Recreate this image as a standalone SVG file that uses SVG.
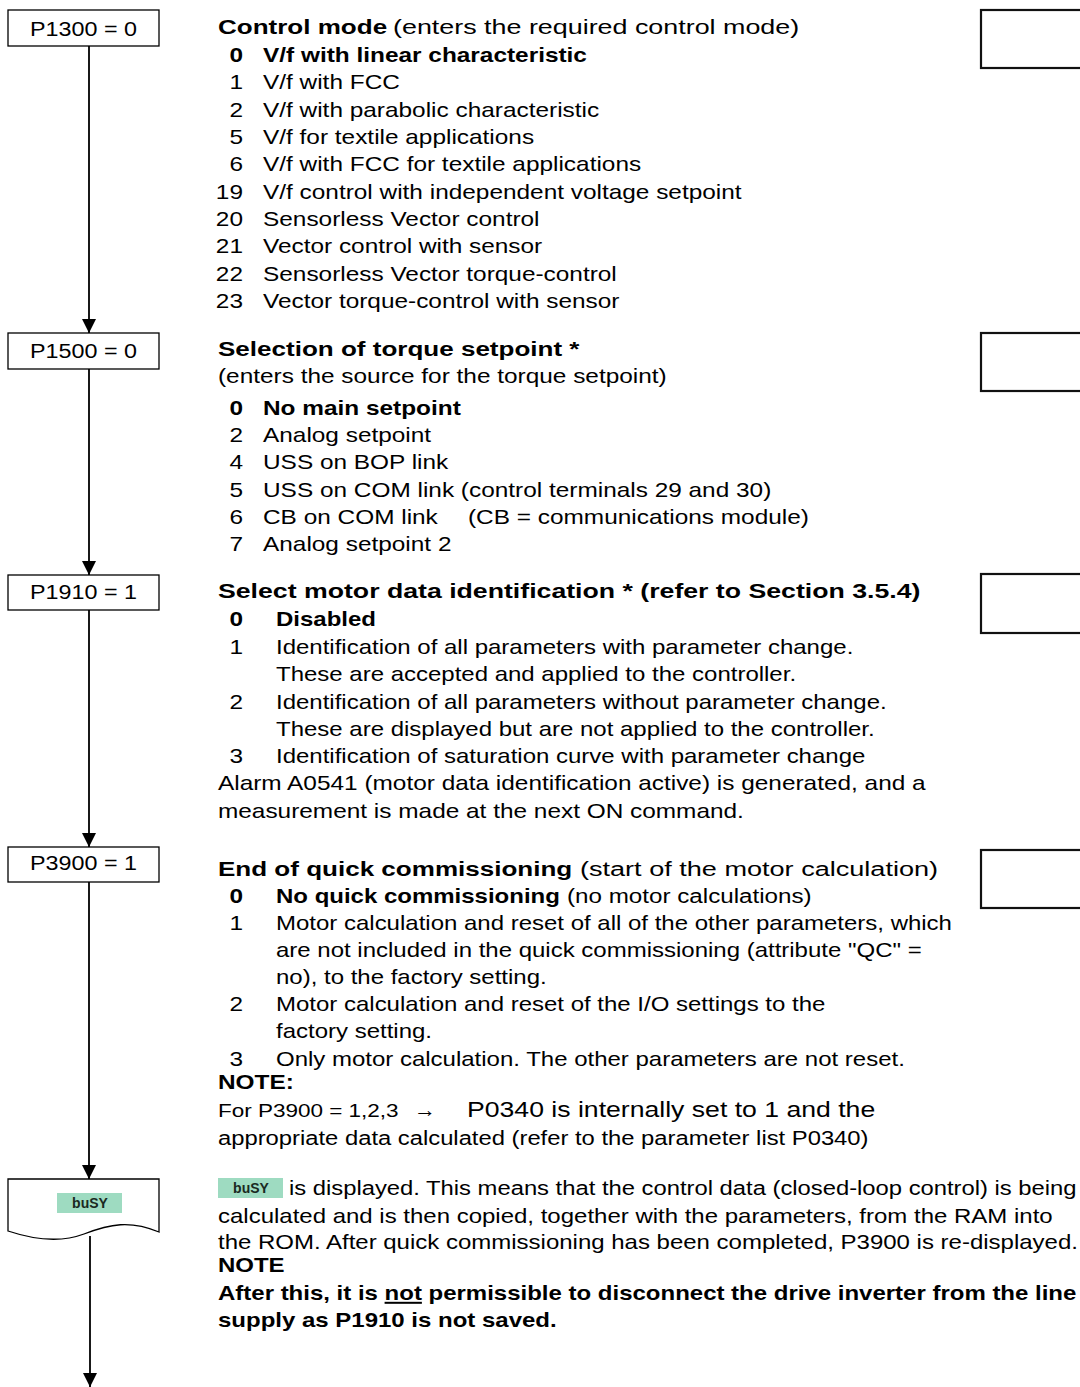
<svg xmlns="http://www.w3.org/2000/svg" width="1080" height="1387" viewBox="0 0 1080 1387">
<style>
text{font-family:"Liberation Sans",Arial,sans-serif;font-size:20px;fill:#000}
.h{font-size:21px;font-weight:bold}
.b{font-weight:bold}
.n text{text-anchor:end}
.pb{fill:#fff;stroke:#000;stroke-width:1.3}
.pt{font-size:20px}
.rb{fill:#fff;stroke:#111;stroke-width:2.2}
.conn{stroke:#000;stroke-width:1.8;fill:none}
.busy{fill:#9edbc1}
.bt{font-size:14px;font-weight:bold;fill:#1a2a22;text-anchor:middle}
</style>
<defs>
<marker id="ah" markerUnits="userSpaceOnUse" markerWidth="14" markerHeight="14" viewBox="0 0 13 13" refX="13" refY="6.5" orient="auto">
<path d="M0,0 L13,6.5 L0,13 z" fill="#000"/>
</marker>
</defs>
<rect width="1080" height="1387" fill="#fff"/>

<g id="connectors">
<line class="conn" x1="89" y1="46" x2="89" y2="333" marker-end="url(#ah)"/>
<line class="conn" x1="89" y1="369" x2="89" y2="575" marker-end="url(#ah)"/>
<line class="conn" x1="89" y1="610" x2="89" y2="847" marker-end="url(#ah)"/>
<line class="conn" x1="89" y1="882" x2="89" y2="1179" marker-end="url(#ah)"/>
<line class="conn" x1="90" y1="1236" x2="90" y2="1387" marker-end="url(#ah)"/>
</g>

<g id="n-p1300">
<rect class="pb" x="8" y="10" width="151" height="36"/>
<text class="pt" x="30" y="36" textLength="107" lengthAdjust="spacingAndGlyphs">P1300 = 0</text>
</g>
<g id="n-p1500">
<rect class="pb" x="8" y="333" width="151" height="36"/>
<text class="pt" x="30" y="358" textLength="107" lengthAdjust="spacingAndGlyphs">P1500 = 0</text>
</g>
<g id="n-p1910">
<rect class="pb" x="8" y="575" width="151" height="35"/>
<text class="pt" x="30" y="599" textLength="107" lengthAdjust="spacingAndGlyphs">P1910 = 1</text>
</g>
<g id="n-p3900">
<rect class="pb" x="8" y="847" width="151" height="35"/>
<text class="pt" x="30" y="870" textLength="107" lengthAdjust="spacingAndGlyphs">P3900 = 1</text>
</g>
<g id="n-busy">
<path class="pb" d="M8,1179 H159 V1232 C130,1220 110,1224 84,1234 C60,1243 35,1240 8,1231 Z"/>
<rect class="busy" x="57" y="1193" width="65" height="20"/>
<text class="bt" x="90" y="1208">buSY</text>
</g>

<g id="right-boxes">
<rect class="rb" x="981" y="10" width="120" height="58"/>
<rect class="rb" x="981" y="333" width="120" height="58"/>
<rect class="rb" x="981" y="574" width="120" height="59"/>
<rect class="rb" x="981" y="850" width="120" height="58"/>
</g>

<g id="sec1">
<text class="h" x="218" y="34" transform="matrix(1.24,0,0,1,-52.32,0)">Control mode</text>
<text x="393" y="34" style="font-size:21px" transform="matrix(1.28,0,0,1,-110.04,0)">(enters the required control mode)</text>
<g class="n" transform="matrix(1.22,0,0,1,-53.46,0)">
<text class="b" x="243" y="62">0</text>
<text x="243" y="89">1</text>
<text x="243" y="117">2</text>
<text x="243" y="144">5</text>
<text x="243" y="171">6</text>
<text x="243" y="199">19</text>
<text x="243" y="226">20</text>
<text x="243" y="253">21</text>
<text x="243" y="281">22</text>
<text x="243" y="308">23</text>
</g>
<g transform="matrix(1.22,0,0,1,-57.86,0)">
<text class="b" x="263" y="62">V/f with linear characteristic</text>
<text x="263" y="89">V/f with FCC</text>
<text x="263" y="117">V/f with parabolic characteristic</text>
<text x="263" y="144">V/f for textile applications</text>
<text x="263" y="171">V/f with FCC for textile applications</text>
<text x="263" y="199">V/f control with independent voltage setpoint</text>
<text x="263" y="226">Sensorless Vector control</text>
<text x="263" y="253">Vector control with sensor</text>
<text x="263" y="281">Sensorless Vector torque-control</text>
<text x="263" y="308">Vector torque-control with sensor</text>
</g>
</g>

<g id="sec2">
<text class="h" x="218" y="356" transform="matrix(1.24,0,0,1,-52.32,0)">Selection of torque setpoint *</text>
<text x="218" y="383" transform="matrix(1.22,0,0,1,-47.96,0)">(enters the source for the torque setpoint)</text>
<g class="n" transform="matrix(1.22,0,0,1,-53.46,0)">
<text class="b" x="243" y="415">0</text>
<text x="243" y="442">2</text>
<text x="243" y="469">4</text>
<text x="243" y="497">5</text>
<text x="243" y="524">6</text>
<text x="243" y="551">7</text>
</g>
<g transform="matrix(1.22,0,0,1,-57.86,0)">
<text class="b" x="263" y="415">No main setpoint</text>
<text x="263" y="442">Analog setpoint</text>
<text x="263" y="469">USS on BOP link</text>
<text x="263" y="497">USS on COM link (control terminals 29 and 30)</text>
<text x="263" y="524">CB on COM link</text>
<text x="263" y="551">Analog setpoint 2</text>
</g>
<text x="468" y="524" transform="matrix(1.22,0,0,1,-102.96,0)">(CB = communications module)</text>
</g>

<g id="sec3">
<text class="h" x="218" y="598" transform="matrix(1.27,0,0,1,-58.86,0)">Select motor data identification * (refer to Section 3.5.4)</text>
<g class="n" transform="matrix(1.22,0,0,1,-53.46,0)">
<text class="b" x="243" y="626">0</text>
<text x="243" y="654">1</text>
<text x="243" y="709">2</text>
<text x="243" y="763">3</text>
</g>
<g transform="matrix(1.2,0,0,1,-55.2,0)">
<text class="b" x="276" y="626">Disabled</text>
<text x="276" y="654">Identification of all parameters with parameter change.</text>
<text x="276" y="681">These are accepted and applied to the controller.</text>
<text x="276" y="709">Identification of all parameters without parameter change.</text>
<text x="276" y="736">These are displayed but are not applied to the controller.</text>
<text x="276" y="763">Identification of saturation curve with parameter change</text>
</g>
<g transform="matrix(1.22,0,0,1,-47.96,0)">
<text x="218" y="790">Alarm A0541 (motor data identification active) is generated, and a</text>
<text x="218" y="818">measurement is made at the next ON command.</text>
</g>
</g>

<g id="sec4">
<text class="h" x="218" y="876" transform="matrix(1.24,0,0,1,-52.32,0)">End of quick commissioning</text>
<text x="580" y="876" style="font-size:21px" transform="matrix(1.29,0,0,1,-168.2,0)">(start of the motor calculation)</text>
<g class="n" transform="matrix(1.22,0,0,1,-53.46,0)">
<text class="b" x="243" y="903">0</text>
<text x="243" y="930">1</text>
<text x="243" y="1011">2</text>
<text x="243" y="1066">3</text>
</g>
<g transform="matrix(1.2,0,0,1,-55.2,0)">
<text class="b" x="276" y="903">No quick commissioning</text>
<text x="276" y="930">Motor calculation and reset of all of the other parameters, which</text>
<text x="276" y="957">are not included in the quick commissioning (attribute "QC" =</text>
<text x="276" y="984">no), to the factory setting.</text>
<text x="276" y="1011">Motor calculation and reset of the I/O settings to the</text>
<text x="276" y="1038">factory setting.</text>
<text x="276" y="1066">Only motor calculation. The other parameters are not reset.</text>
</g>
<text x="567" y="903" transform="matrix(1.21,0,0,1,-119.07,0)">(no motor calculations)</text>
<text class="b" x="218" y="1089" transform="matrix(1.22,0,0,1,-47.96,0)">NOTE:</text>
<text x="218" y="1117" style="font-size:18px" transform="matrix(1.25,0,0,1,-54.5,0)">For P3900 = 1,2,3</text>
<text x="414" y="1117" style="font-size:22px">→</text>
<text x="467" y="1117" style="font-size:22px" transform="matrix(1.21,0,0,1,-98.07,0)">P0340 is internally set to 1 and the</text>
<text x="218" y="1145" transform="matrix(1.19,0,0,1,-41.42,0)">appropriate data calculated (refer to the parameter list P0340)</text>
</g>

<g id="sec5">
<rect class="busy" x="218" y="1178" width="65" height="20"/>
<text class="bt" x="251" y="1193">buSY</text>
<text x="289" y="1195" transform="matrix(1.19,0,0,1,-54.91,0)">is displayed. This means that the control data (closed-loop control) is being</text>
<g transform="matrix(1.2,0,0,1,-43.6,0)">
<text x="218" y="1223">calculated and is then copied, together with the parameters, from the RAM into</text>
<text x="218" y="1249">the ROM. After quick commissioning has been completed, P3900 is re-displayed.</text>
<text class="b" x="218" y="1272">NOTE</text>
<text class="b" x="218" y="1300">After this, it is <tspan text-decoration="underline">not</tspan> permissible to disconnect the drive inverter from the line</text>
<text class="b" x="218" y="1327">supply as P1910 is not saved.</text>
</g>
</g>
</svg>
